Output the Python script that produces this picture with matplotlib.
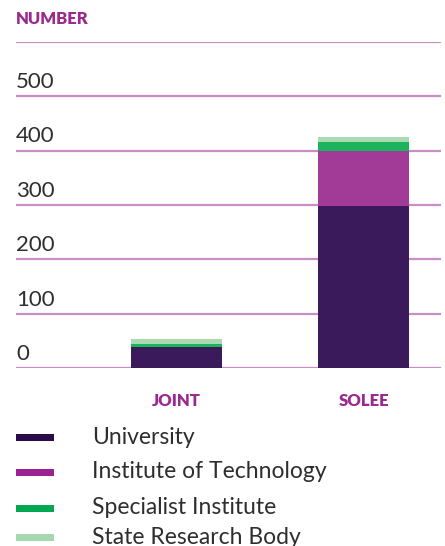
import matplotlib.pyplot as plt
from matplotlib.patches import Rectangle
from matplotlib.transforms import offset_copy

groups = ["JOINT", "SOLEE"]
series = ["University", "Institute of Technology", "Specialist Institute", "State Research Body"]
university = [38, 298]
institute_tech = [1, 101]
specialist = [5, 17]
state_body = [9, 9]
yticks = [0, 100, 200, 300, 400, 500, 600]
ytick_labels = ["0", "100", "200", "300", "400", "500", ""]

bar_colors = ["#3b1a5c", "#a23a97", "#1db35c", "#a9dab1"]
key_colors = ["#2a0a4a", "#9b2391", "#00a94f", "#a6d8b0"]
purple = "#9b2a8f"
grid_col = "#c690c6"
text_col = "#2e2e2e"

plt.rcParams["font.family"] = ["Lato", "DejaVu Sans"]

W, H = 445, 546
fig = plt.figure(figsize=(W / 100, H / 100), dpi=100)
ax = fig.add_axes([16 / W, 178 / H, 425 / W, 326 / H])

x = list(range(len(groups)))
bottom = [0] * len(groups)
for vals, col in zip([university, institute_tech, specialist, state_body], bar_colors):
    ax.bar(x, vals, width=0.487, bottom=bottom, color=col, zorder=3)
    bottom = [b + v for b, v in zip(bottom, vals)]

ax.set_xlim(-0.858, 1.414)
ax.set_ylim(0, 600)
for y in yticks:
    ax.axhline(y, color=grid_col, lw=1.6, zorder=1)

# value labels sit just above their gridline, flush left
lab_tr = offset_copy(ax.get_yaxis_transform(), fig=fig, x=0, y=3, units="points")
for y, lab in zip(yticks, ytick_labels):
    ax.text(0, y, lab, transform=lab_tr, ha="left", va="bottom",
            fontsize=16, color=text_col)

for xi, g in zip(x, groups):
    ax.text(xi, -61, g, ha="center", va="center", fontsize=12,
            fontweight="heavy", color=purple, clip_on=False)

ax.text(0, 1.0, "NUMBER", transform=offset_copy(ax.transAxes, fig=fig, y=16.5, units="points"),
        ha="left", va="center", fontsize=12, fontweight="heavy", color=purple)

for s in ax.spines.values():
    s.set_visible(False)
ax.set_xticks([])
ax.set_yticks([])

# key below the chart
key_rows = [437, 472, 508, 537]
for row, col, name in zip(key_rows, key_colors, series):
    fig.patches.append(Rectangle((16 / W, 1 - (row + 3.5) / H), 38 / W, 7 / H,
                                 transform=fig.transFigure, facecolor=col, edgecolor="none"))
    fig.text(92 / W, 1 - row / H, name, ha="left", va="center",
             fontsize=16.5, color=text_col)

fig.savefig("out.png", dpi=100)
